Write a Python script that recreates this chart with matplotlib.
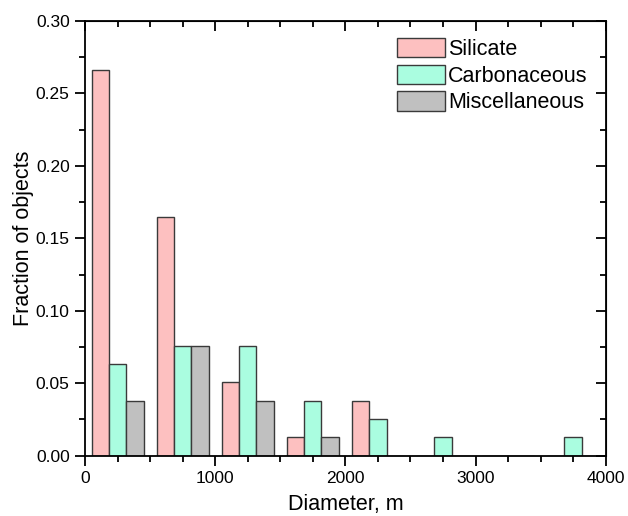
import matplotlib.pyplot as plt
from matplotlib.ticker import MultipleLocator

plt.rcParams['font.family'] = ['Liberation Sans', 'DejaVu Sans']

# histogram bins (500 m wide), value = fraction of objects
bin_centers = [250, 750, 1250, 1750, 2250, 2750, 3250, 3750]
silicate = [0.266, 0.165, 0.051, 0.013, 0.038, 0.0, 0.0, 0.0]
carbonaceous = [0.063, 0.076, 0.076, 0.038, 0.025, 0.013, 0.0, 0.013]
miscellaneous = [0.038, 0.076, 0.038, 0.013, 0.0, 0.0, 0.0, 0.0]
labels = ['Silicate', 'Carbonaceous', 'Miscellaneous']
colors = ['#FDC0C0', '#AAFDE0', '#C0C0C0']

fig = plt.figure(figsize=(6.28, 5.16), dpi=100)
ax = fig.add_axes([85/628, 1-455.7/516, (605.7-85)/628, (455.7-21)/516])

w = 400/3
series = [silicate, carbonaceous, miscellaneous]
for i, (vals, lab, c) in enumerate(zip(series, labels, colors)):
    xs = [b + (i-1)*w for b in bin_centers]
    ax.bar(xs, vals, width=w, color=c, edgecolor='#3a3a3a', linewidth=1.0, label=lab)

ax.set_xlim(0, 4000)
ax.set_ylim(0, 0.30)
ax.xaxis.set_major_locator(MultipleLocator(1000))
ax.xaxis.set_minor_locator(MultipleLocator(250))
ax.yaxis.set_major_locator(MultipleLocator(0.05))
ax.yaxis.set_minor_locator(MultipleLocator(0.025))
ax.yaxis.set_major_formatter(plt.FormatStrFormatter('%.2f'))

for s in ax.spines.values():
    s.set_linewidth(1.3)

ax.tick_params(which='major', direction='out', length=7, width=1.3, labelsize=12.5, pad=4)
ax.tick_params(which='minor', direction='out', length=4, width=1.3)
ax.tick_params(which='both', top=False, right=False)

# mirrored inward ticks on top and right
ax2 = ax.secondary_xaxis('top')
ax2.xaxis.set_major_locator(MultipleLocator(1000))
ax2.xaxis.set_minor_locator(MultipleLocator(250))
ax2.tick_params(which='major', direction='in', length=7, width=1.3, labeltop=False)
ax2.tick_params(which='minor', direction='in', length=4, width=1.3)
ay2 = ax.secondary_yaxis('right')
ay2.yaxis.set_major_locator(MultipleLocator(0.05))
ay2.yaxis.set_minor_locator(MultipleLocator(0.025))
ay2.tick_params(which='major', direction='in', length=7, width=1.3, labelright=False)
ay2.tick_params(which='minor', direction='in', length=4, width=1.3)

ax.set_xlabel('Diameter, m', fontsize=15.5, labelpad=6)
ax.set_ylabel('Fraction of objects', fontsize=15.5, labelpad=1)

fig.legend(loc='upper left', bbox_to_anchor=(396.7/628, 1-38/516), frameon=False, fontsize=15.5,
           handlelength=2.23, handleheight=1.0, labelspacing=0.22, handletextpad=0.17,
           borderpad=0, borderaxespad=0)

fig.savefig('out.png', dpi=100)
